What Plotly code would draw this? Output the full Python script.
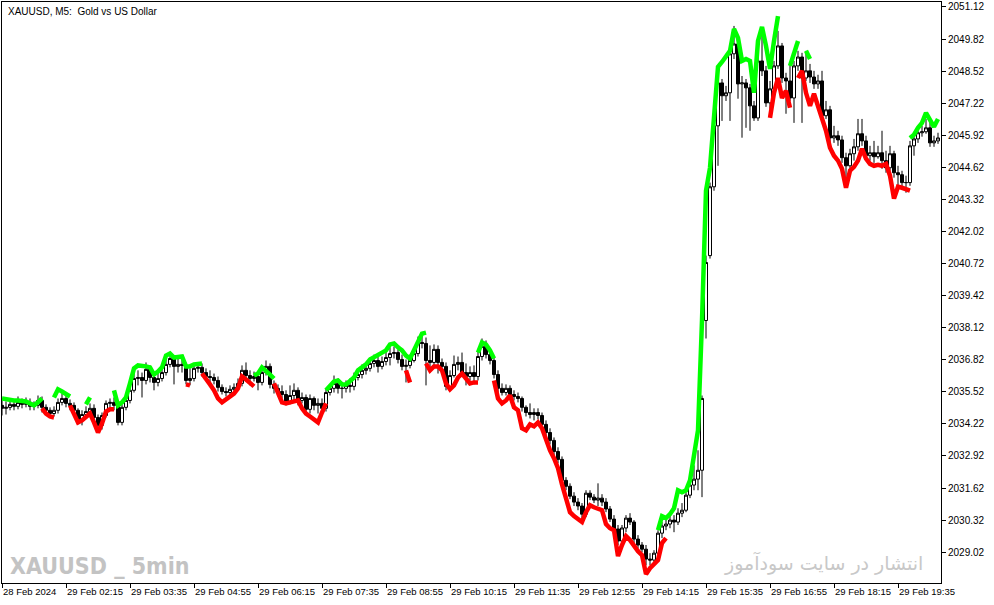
import plotly.graph_objects as go

# ---------------- data (XAUUSD M5) ----------------
tick_bars = [0, 16, 32, 48, 64, 80, 96, 112, 128, 144, 160, 176, 192, 208, 224]
tick_text = ["28 Feb 2024", "29 Feb 02:15", "29 Feb 03:35", "29 Feb 04:55", "29 Feb 06:15",
             "29 Feb 07:35", "29 Feb 08:55", "29 Feb 10:15", "29 Feb 11:35", "29 Feb 12:55",
             "29 Feb 14:15", "29 Feb 15:35", "29 Feb 16:55", "29 Feb 18:15", "29 Feb 19:35"]
price_ticks = [2029.02, 2030.32, 2031.62, 2032.92, 2034.22, 2035.52, 2036.82, 2038.12, 2039.42,
               2040.72, 2042.02, 2043.32, 2044.62, 2045.92, 2047.22, 2048.52, 2049.82, 2051.12]

close = [
2034.85, 2034.89, 2035.01, 2034.93, 2035.09, 2035.01, 2035.09, 2034.93, 2034.97, 2035.17,
2034.89, 2034.77, 2034.64, 2034.77, 2035.09, 2035.25, 2035.05, 2034.97, 2034.77, 2034.36,
2034.60, 2034.72, 2034.85, 2034.48, 2034.16, 2034.56, 2035.05, 2035.09, 2034.97, 2034.28,
2034.89, 2035.17, 2035.58, 2036.06, 2036.10, 2035.98, 2036.43, 2036.10, 2035.90, 2036.06,
2036.30, 2036.63, 2036.87, 2036.55, 2036.63, 2036.59, 2035.98, 2036.06, 2036.47, 2036.51,
2036.30, 2036.14, 2036.10, 2035.98, 2035.70, 2035.53, 2035.49, 2035.62, 2035.70, 2035.86,
2036.39, 2036.18, 2036.06, 2036.14, 2035.90, 2036.30, 2036.55, 2035.82, 2035.66, 2035.53,
2035.41, 2035.13, 2035.37, 2035.58, 2035.17, 2035.29, 2034.81, 2035.25, 2034.97, 2035.05,
2034.85, 2035.49, 2035.66, 2035.86, 2035.66, 2035.66, 2035.78, 2035.74, 2036.10, 2036.22,
2036.39, 2036.47, 2036.67, 2036.79, 2036.55, 2036.75, 2036.91, 2037.07, 2037.11, 2036.83,
2036.55, 2036.59, 2036.79, 2037.07, 2037.52, 2037.48, 2036.79, 2036.71, 2037.24, 2036.71,
2036.55, 2035.74, 2036.18, 2036.63, 2036.71, 2036.30, 2036.14, 2036.30, 2036.14, 2036.95,
2037.36, 2037.03, 2036.79, 2036.22, 2035.66, 2035.49, 2035.66, 2035.41, 2035.33, 2035.25,
2034.89, 2034.68, 2034.60, 2034.68, 2034.56, 2034.20, 2033.87, 2033.55, 2033.10, 2032.78,
2031.93, 2031.69, 2031.29, 2031.05, 2030.89, 2030.56, 2031.41, 2031.25, 2031.13, 2031.21,
2031.05, 2030.77, 2030.36, 2029.96, 2029.47, 2030.00, 2030.40, 2030.24, 2029.55, 2029.31,
2029.14, 2028.74, 2028.70, 2028.98, 2029.79, 2030.08, 2030.16, 2030.32, 2030.24, 2030.60,
2030.72, 2031.33, 2031.74, 2031.98, 2032.34, 2035.25, 2040.76, 2043.83, 2046.30, 2048.04,
2047.52, 2047.64, 2049.22, 2049.62, 2048.00, 2048.04, 2047.84, 2047.11, 2046.62, 2048.93,
2048.53, 2047.23, 2047.80, 2048.73, 2049.54, 2048.24, 2048.12, 2047.43, 2048.73, 2049.09,
2048.24, 2048.53, 2048.28, 2048.00, 2048.12, 2046.71, 2046.95, 2045.81, 2045.90, 2045.73,
2045.01, 2044.68, 2045.17, 2045.45, 2045.98, 2045.69, 2045.09, 2045.21, 2045.05, 2045.21,
2044.89, 2044.60, 2045.17, 2044.40, 2044.32, 2044.00, 2044.00, 2045.49, 2045.77, 2046.02,
2046.06, 2046.22, 2045.61, 2045.69, 2045.81]

open_ = [
2034.97, 2034.85, 2034.89, 2035.01, 2034.93, 2035.09, 2035.01, 2035.09, 2034.93, 2034.97,
2035.17, 2034.89, 2034.77, 2034.64, 2034.77, 2035.09, 2035.25, 2035.05, 2034.97, 2034.77,
2034.36, 2034.60, 2034.72, 2034.85, 2034.48, 2034.16, 2034.56, 2035.05, 2035.09, 2034.97,
2034.28, 2034.89, 2035.17, 2035.58, 2036.06, 2036.10, 2035.98, 2036.43, 2036.10, 2035.90,
2036.06, 2036.30, 2036.63, 2036.87, 2036.55, 2036.63, 2036.59, 2035.98, 2036.06, 2036.47,
2036.51, 2036.30, 2036.14, 2036.10, 2035.98, 2035.70, 2035.53, 2035.49, 2035.62, 2035.70,
2035.86, 2036.39, 2036.18, 2036.06, 2036.14, 2035.90, 2036.30, 2036.55, 2035.82, 2035.66,
2035.53, 2035.41, 2035.13, 2035.37, 2035.58, 2035.17, 2035.29, 2034.81, 2035.25, 2034.97,
2035.05, 2034.85, 2035.49, 2035.66, 2035.86, 2035.66, 2035.66, 2035.78, 2035.74, 2036.10,
2036.22, 2036.39, 2036.47, 2036.67, 2036.79, 2036.55, 2036.75, 2036.91, 2037.07, 2037.11,
2036.83, 2036.55, 2036.59, 2036.79, 2037.07, 2037.52, 2037.48, 2036.79, 2036.71, 2037.24,
2036.71, 2036.55, 2035.74, 2036.18, 2036.63, 2036.71, 2036.30, 2036.14, 2036.30, 2036.14,
2036.95, 2037.36, 2037.03, 2036.79, 2036.22, 2035.66, 2035.49, 2035.66, 2035.41, 2035.33,
2035.25, 2034.89, 2034.68, 2034.60, 2034.68, 2034.56, 2034.20, 2033.87, 2033.55, 2033.10,
2032.78, 2031.93, 2031.69, 2031.29, 2031.05, 2030.89, 2030.56, 2031.41, 2031.25, 2031.13,
2031.21, 2031.05, 2030.77, 2030.36, 2029.96, 2029.47, 2030.00, 2030.40, 2030.24, 2029.55,
2029.31, 2029.14, 2028.74, 2028.70, 2028.98, 2029.79, 2030.08, 2030.16, 2030.32, 2030.24,
2030.60, 2030.72, 2031.33, 2031.74, 2031.98, 2032.34, 2038.41, 2041.04, 2043.83, 2046.30,
2048.04, 2047.52, 2047.64, 2049.22, 2049.62, 2048.00, 2048.04, 2047.84, 2047.11, 2046.62,
2048.93, 2048.53, 2047.23, 2047.80, 2048.73, 2049.54, 2048.24, 2048.12, 2047.43, 2048.73,
2049.09, 2048.24, 2048.53, 2048.28, 2048.00, 2048.12, 2046.71, 2046.95, 2045.81, 2045.90,
2045.73, 2045.01, 2044.68, 2045.17, 2045.45, 2045.98, 2045.69, 2045.09, 2045.21, 2045.05,
2045.21, 2044.89, 2044.60, 2045.17, 2044.40, 2044.32, 2044.00, 2044.00, 2045.49, 2045.77,
2046.02, 2046.06, 2046.22, 2045.61, 2045.69]

high = [
2035.17, 2035.13, 2035.25, 2035.17, 2035.33, 2035.25, 2035.29, 2035.25, 2035.13, 2035.37,
2035.33, 2035.01, 2034.89, 2034.93, 2035.25, 2035.45, 2035.37, 2035.21, 2035.09, 2034.85,
2034.77, 2034.93, 2035.05, 2035.01, 2034.60, 2034.68, 2035.17, 2035.25, 2035.29, 2035.09,
2035.01, 2035.33, 2035.78, 2036.30, 2036.39, 2036.30, 2036.71, 2036.59, 2036.30, 2036.30,
2036.55, 2036.87, 2037.11, 2036.99, 2036.87, 2036.91, 2036.71, 2036.47, 2036.67, 2036.67,
2036.67, 2036.47, 2036.39, 2036.26, 2036.14, 2035.82, 2035.70, 2035.78, 2035.86, 2036.06,
2036.59, 2036.71, 2036.39, 2036.34, 2036.30, 2036.55, 2036.79, 2036.67, 2035.98, 2035.82,
2035.78, 2035.58, 2035.78, 2035.86, 2035.70, 2035.49, 2035.41, 2035.41, 2035.33, 2035.25,
2035.25, 2035.66, 2035.82, 2036.18, 2036.06, 2035.86, 2035.98, 2036.06, 2036.30, 2036.47,
2036.63, 2036.71, 2036.91, 2037.03, 2037.03, 2036.95, 2037.15, 2037.32, 2037.36, 2037.24,
2037.03, 2036.83, 2037.03, 2037.28, 2037.76, 2037.92, 2037.72, 2037.40, 2037.44, 2037.40,
2036.87, 2036.71, 2036.39, 2036.99, 2036.95, 2037.11, 2036.67, 2036.55, 2036.59, 2037.20,
2037.68, 2037.60, 2037.20, 2036.91, 2036.39, 2035.86, 2035.82, 2035.78, 2035.58, 2035.49,
2035.33, 2034.97, 2035.05, 2034.85, 2034.85, 2034.68, 2034.36, 2034.04, 2033.67, 2033.27,
2032.90, 2032.06, 2031.81, 2031.45, 2031.21, 2031.01, 2031.53, 2031.53, 2031.37, 2031.81,
2031.37, 2031.21, 2030.89, 2030.52, 2030.12, 2030.12, 2030.52, 2030.60, 2030.32, 2029.71,
2029.43, 2029.31, 2028.98, 2029.10, 2029.91, 2030.24, 2030.40, 2030.52, 2030.52, 2030.80,
2031.01, 2031.53, 2032.01, 2032.54, 2033.15, 2035.37, 2041.04, 2044.00, 2046.58, 2048.32,
2048.20, 2047.92, 2049.42, 2050.35, 2049.74, 2048.32, 2048.20, 2048.00, 2047.31, 2049.54,
2050.02, 2048.73, 2048.12, 2048.93, 2050.15, 2049.66, 2048.45, 2048.85, 2048.93, 2049.34,
2049.26, 2049.34, 2048.81, 2048.53, 2048.37, 2048.53, 2047.31, 2047.11, 2046.30, 2046.10,
2045.90, 2045.21, 2045.37, 2045.77, 2046.58, 2046.58, 2045.90, 2045.49, 2045.69, 2045.49,
2046.10, 2045.29, 2045.49, 2045.29, 2044.68, 2044.48, 2044.28, 2045.69, 2046.02, 2046.30,
2046.30, 2046.58, 2046.42, 2045.90, 2046.02]

low = [
2034.56, 2034.60, 2034.77, 2034.77, 2034.81, 2034.85, 2034.89, 2034.77, 2034.77, 2034.85,
2034.68, 2034.60, 2034.52, 2034.52, 2034.64, 2034.97, 2034.89, 2034.77, 2034.60, 2034.20,
2034.16, 2034.44, 2034.60, 2034.32, 2033.91, 2033.99, 2034.48, 2034.89, 2034.77, 2034.16,
2034.16, 2034.77, 2035.05, 2035.49, 2035.78, 2035.29, 2035.82, 2035.90, 2035.58, 2035.74,
2035.94, 2036.18, 2036.51, 2035.82, 2036.30, 2036.30, 2035.82, 2035.78, 2035.94, 2036.30,
2036.14, 2035.98, 2035.90, 2035.82, 2035.53, 2035.41, 2035.33, 2035.37, 2035.49, 2035.58,
2035.74, 2036.02, 2035.78, 2035.94, 2035.58, 2035.78, 2036.18, 2035.66, 2035.45, 2035.37,
2035.25, 2034.97, 2035.01, 2035.17, 2034.97, 2035.05, 2034.60, 2034.64, 2034.77, 2034.64,
2034.68, 2034.72, 2035.37, 2035.49, 2035.45, 2035.25, 2035.49, 2035.49, 2035.58, 2035.98,
2036.06, 2036.22, 2036.34, 2036.51, 2036.30, 2036.43, 2036.59, 2036.59, 2036.87, 2036.67,
2036.39, 2035.90, 2036.47, 2036.71, 2036.95, 2037.28, 2035.78, 2036.30, 2036.55, 2036.26,
2036.30, 2035.58, 2035.58, 2036.10, 2036.39, 2036.14, 2035.78, 2035.98, 2035.82, 2035.98,
2036.79, 2036.87, 2036.63, 2036.06, 2035.49, 2035.37, 2035.37, 2035.25, 2035.17, 2035.09,
2034.72, 2034.52, 2034.44, 2034.36, 2034.40, 2034.04, 2033.71, 2033.39, 2032.94, 2032.62,
2031.77, 2031.53, 2031.17, 2030.89, 2030.72, 2030.40, 2030.44, 2031.13, 2031.01, 2030.89,
2030.89, 2030.64, 2030.24, 2029.79, 2029.31, 2029.35, 2029.83, 2030.12, 2029.39, 2029.19,
2029.02, 2028.49, 2028.49, 2028.58, 2028.82, 2029.59, 2029.91, 2029.99, 2029.83, 2030.12,
2030.44, 2030.64, 2031.21, 2031.53, 2031.53, 2031.25, 2037.68, 2040.92, 2043.67, 2044.68,
2046.50, 2047.31, 2046.50, 2049.01, 2047.40, 2045.82, 2046.22, 2046.10, 2046.50, 2046.50,
2048.32, 2047.07, 2046.99, 2047.64, 2048.61, 2048.04, 2046.79, 2047.31, 2046.42, 2048.53,
2046.42, 2048.12, 2048.04, 2047.80, 2047.80, 2046.50, 2046.58, 2045.61, 2045.61, 2045.49,
2044.80, 2044.08, 2044.56, 2044.89, 2045.29, 2045.49, 2044.89, 2044.89, 2044.80, 2044.97,
2044.56, 2044.40, 2044.48, 2044.20, 2043.87, 2043.75, 2043.59, 2043.87, 2045.09, 2045.61,
2045.86, 2045.98, 2045.45, 2045.45, 2045.57]

# indicator: (first bar index, values) per visible segment
green_segments = [
    (0, [2035.25, 2035.21, 2035.17, 2035.17, 2035.17, 2035.17, 2035.13, 2035.05, 2034.97, 2035.09, 2035.25]),
    (13, [2035.29, 2035.62, 2035.53, 2035.41, 2035.33]),
    (21, [2035.01, 2035.29]),
    (28, [2035.58, 2034.97, 2035.09, 2035.29, 2035.86, 2036.47, 2036.59, 2036.59, 2036.55, 2036.51,
          2036.22, 2036.34, 2036.51, 2036.99, 2037.07, 2036.91, 2036.95, 2036.95, 2036.55, 2036.55,
          2036.63, 2036.67, 2036.67]),
    (63, [2036.18, 2036.26, 2036.51, 2036.38, 2036.22, 2036.06]),
    (81, [2035.58, 2035.74, 2035.94, 2035.98, 2035.82, 2035.82, 2035.94, 2036.10, 2036.39, 2036.51,
          2036.63, 2036.83, 2036.91, 2036.99, 2037.07, 2037.20, 2037.44, 2037.48, 2037.32, 2037.20,
          2036.99, 2036.87, 2037.20, 2037.60, 2037.88, 2037.92]),
    (119, [2037.11, 2037.52, 2037.44, 2037.20, 2036.87]),
    (164, [2029.91, 2030.48, 2030.40, 2030.56, 2030.80, 2031.53, 2031.45, 2031.53, 2031.93, 2032.95,
           2033.96, 2038.41, 2043.67, 2044.60, 2046.71, 2048.69, 2048.89, 2049.09, 2049.34, 2050.23,
           2049.86, 2048.93, 2049.01, 2048.93, 2047.64, 2049.74, 2050.31, 2049.54, 2048.61, 2049.74,
           2050.75]),
    (197, [2048.73, 2049.26, 2049.74]),
    (201, [2049.34, 2049.01]),
    (227, [2045.81, 2045.94, 2046.22, 2046.42, 2046.83, 2046.58, 2046.26, 2046.58]),
]
red_segments = [
    (10, [2034.85, 2034.64, 2034.52, 2034.48]),
    (17, [2034.97, 2034.64, 2034.28, 2034.36, 2034.52, 2034.64, 2034.28, 2033.87, 2034.24, 2034.72,
          2034.81, 2034.81]),
    (46, [2035.82, 2035.78]),
    (50, [2036.26, 2036.06, 2035.82, 2035.58, 2035.25, 2035.09, 2035.21, 2035.33, 2035.45, 2035.66,
          2036.14, 2036.02, 2035.86, 2035.74]),
    (68, [2035.86, 2035.45, 2035.09, 2035.05, 2035.09, 2035.13, 2035.17, 2034.85, 2034.64, 2034.52,
          2034.40, 2034.28, 2034.68, 2035.05]),
    (101, [2036.39, 2035.90]),
    (106, [2036.67, 2036.39, 2036.55, 2036.55, 2036.39, 2035.86, 2035.62, 2035.78, 2036.10, 2036.26,
           2036.06, 2035.86, 2035.90, 2035.90]),
    (123, [2035.98, 2035.25, 2035.05, 2035.17, 2035.37, 2034.89, 2034.77, 2034.04, 2033.96, 2034.20,
           2034.12, 2034.28, 2034.04, 2033.55, 2033.15, 2032.83, 2032.42, 2031.77, 2031.21, 2030.64,
           2030.48, 2030.36, 2030.24, 2030.64, 2030.92, 2030.84, 2030.80, 2030.72, 2030.16, 2029.99,
           2029.91, 2028.86, 2029.31, 2029.67, 2029.51, 2029.27, 2029.06, 2028.90, 2028.13, 2028.37,
           2028.53, 2028.70, 2029.39, 2029.59]),
    (192, [2046.62, 2047.64, 2048.24, 2047.43, 2047.72, 2047.03]),
    (199, [2048.24, 2048.53, 2047.64, 2047.11, 2047.60, 2047.07, 2046.58, 2046.10, 2045.41, 2045.09,
           2044.89, 2044.56, 2043.79, 2044.48, 2044.64, 2044.89, 2045.37, 2044.97, 2044.76, 2044.68,
           2044.72, 2044.68, 2044.76, 2044.28, 2043.35, 2043.83, 2043.79, 2043.75, 2043.67]),
]

bars = list(range(len(close)))


def seg_xy(segments):
    xs, ys = [], []
    for start, vals in segments:
        xs += [start + k for k in range(len(vals))] + [None]
        ys += vals + [None]
    return xs, ys


fig = go.Figure()
fig.add_trace(go.Candlestick(
    x=bars, open=open_, high=high, low=low, close=close,
    increasing=dict(line=dict(color="#000000", width=1), fillcolor="#ffffff"),
    decreasing=dict(line=dict(color="#000000", width=1), fillcolor="#000000"),
    whiskerwidth=0, showlegend=False, hoverinfo="skip"))

gx, gy = seg_xy(green_segments)
rx, ry = seg_xy(red_segments)
fig.add_trace(go.Scatter(x=gx, y=gy, mode="lines", line=dict(color="#00ff00", width=4.5),
                         connectgaps=False, showlegend=False, hoverinfo="skip"))
fig.add_trace(go.Scatter(x=rx, y=ry, mode="lines", line=dict(color="#ff0000", width=4.5),
                         connectgaps=False, showlegend=False, hoverinfo="skip"))

axis_font = dict(family="Liberation Sans, Arial, sans-serif", size=10, color="#000000")
fig.update_layout(
    width=994, height=605,
    margin=dict(l=2, r=53, t=2, b=22, autoexpand=False),
    paper_bgcolor="#ffffff", plot_bgcolor="#ffffff",
    showlegend=False,
    boxgap=0.25, boxgroupgap=0,
    xaxis=dict(range=[0, 234.75], tickmode="array", tickvals=tick_bars, ticktext=tick_text,
               ticks="outside", ticklen=4, tickcolor="#000000", tickwidth=1,
               ticklabelposition="outside right", tickangle=0, automargin=False,
               showline=True, linecolor="#000000", linewidth=1, mirror=True,
               showgrid=False, zeroline=False, rangeslider=dict(visible=False),
               tickfont=dict(family="Liberation Sans, Arial, sans-serif", size=9.5, color="#000000")),
    yaxis=dict(range=[2027.77, 2051.32], side="right", tickmode="array", tickvals=price_ticks,
               ticktext=[f"{v:.2f}" for v in price_ticks], automargin=False,
               ticks="outside", ticklen=4, tickcolor="#000000", tickwidth=1,
               showline=True, linecolor="#000000", linewidth=1, mirror=True,
               showgrid=False, zeroline=False, tickfont=axis_font),
    annotations=[
        dict(text="XAUUSD, M5:\u00a0 Gold vs US Dollar", xref="paper", yref="paper",
             x=0.004, y=0.997, xanchor="left", yanchor="top", showarrow=False,
             font=dict(family="Liberation Sans, Arial, sans-serif", size=10, color="#000000")),
        dict(text="<b>XAUUSD _ 5min</b>", xref="paper", yref="paper",
             x=0.006, y=0.004, xanchor="left", yanchor="bottom", showarrow=False,
             font=dict(family="Liberation Sans Narrow, DejaVu Sans Condensed, sans-serif",
                       size=23, color="#c3c3c3")),
        dict(text="انتشار در سایت سودآموز", xref="paper", yref="paper",
             x=0.983, y=0.01, xanchor="right", yanchor="bottom", showarrow=False,
             font=dict(family="DejaVu Sans, sans-serif", size=19, color="#c8c8c8")),
    ],
)

fig.write_html("out.html", config={"displayModeBar": False, "staticPlot": True},
               post_script="document.body.style.margin='0';document.body.style.overflow='hidden';")
